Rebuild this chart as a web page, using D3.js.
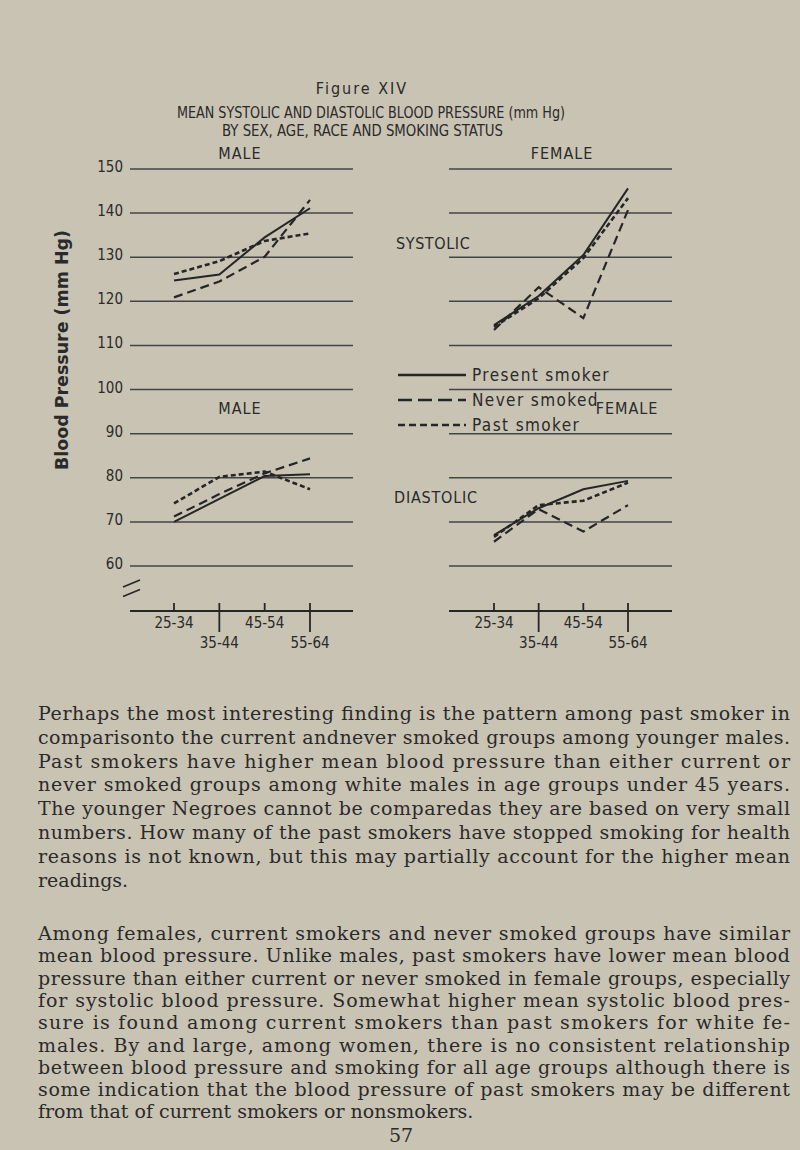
<!DOCTYPE html>
<html><head><meta charset="utf-8">
<script src="https://cdn.jsdelivr.net/npm/d3@7"></script>
<style>
html,body{margin:0;padding:0;background:#c9c3b3;}
svg{display:block;}
.cf{font-family:"DejaVu Sans Condensed","Liberation Sans Narrow","Roboto","Arial Narrow",sans-serif;fill:#2a2a2a;}
.body{font-family:"DejaVu Serif","Liberation Serif",serif;fill:#2a2a2a;}
</style></head>
<body>
<svg id="c" width="800" height="1150"></svg>
<script>
// ---- data ----
const ages = ["25-34","35-44","45-54","55-64"];
const yTicks = [150,140,130,120,110,100,90,80,70,60];
const seriesNames = ["Present smoker","Never smoked","Past smoker"];
const maleSysPresent   = [124.7,126.1,134.5,141.1];
const maleSysNever     = [120.9,124.5,130.1,143.0];
const maleSysPast      = [126.2,129.1,133.7,135.4];
const femaleSysPresent = [114.6,121.2,130.5,145.6];
const femaleSysNever   = [113.5,123.2,116.2,140.7];
const femaleSysPast    = [114.2,120.7,129.8,143.4];
const maleDiaPresent   = [70.0,75.2,80.4,80.8];
const maleDiaNever     = [71.2,76.3,81.0,84.4];
const maleDiaPast      = [74.2,80.2,81.4,77.4];
const femaleDiaPresent = [67.0,73.1,77.4,79.3];
const femaleDiaNever   = [65.5,72.9,67.8,73.8];
const femaleDiaPast    = [66.6,73.8,74.8,78.9];

const para1 = [
 "Perhaps the most interesting finding is the pattern among past smoker in",
 "comparisonto the current andnever smoked groups among younger males.",
 "Past smokers have higher mean blood pressure than either current or",
 "never smoked groups among white males in age groups under 45 years.",
 "The younger Negroes cannot be comparedas they are based on very small",
 "numbers. How many of the past smokers have stopped smoking for health",
 "reasons is not known, but this may partially account for the higher mean",
 "readings."];
const para2 = [
 "Among females, current smokers and never smoked groups have similar",
 "mean blood pressure. Unlike males, past smokers have lower mean blood",
 "pressure than either current or never smoked in female groups, especially",
 "for systolic blood pressure. Somewhat higher mean systolic blood pres-",
 "sure is found among current smokers than past smokers for white fe-",
 "males. By and large, among women, there is no consistent relationship",
 "between blood pressure and smoking for all age groups although there is",
 "some indication that the blood pressure of past smokers may be different",
 "from that of current smokers or nonsmokers."];

// ---- drawing ----
const svg = d3.select("#c");
const ink = "#262626";
const y = d3.scaleLinear().domain([60,150]).range([566,169]);
const panels = [
  {x0:130, x1:353, x: d3.scalePoint().domain(ages).range([174,310]),
   sys:[maleSysPresent,maleSysNever,maleSysPast], dia:[maleDiaPresent,maleDiaNever,maleDiaPast]},
  {x0:449, x1:672, x: d3.scalePoint().domain(ages).range([494,628]),
   sys:[femaleSysPresent,femaleSysNever,femaleSysPast], dia:[femaleDiaPresent,femaleDiaNever,femaleDiaPast]}
];
const dashes = [null, "9,5", "5,3"];
const widths = [2, 2.2, 2.6];

// titles
svg.append("text").attr("class","cf").attr("x",362).attr("y",94).attr("text-anchor","middle")
  .attr("font-size",16).attr("letter-spacing",2).text("Figure XIV");
svg.append("text").attr("class","cf").attr("x",177).attr("y",118).attr("font-size",16)
  .attr("textLength",388).attr("lengthAdjust","spacingAndGlyphs").text("MEAN SYSTOLIC AND DIASTOLIC BLOOD PRESSURE (mm Hg)");
svg.append("text").attr("class","cf").attr("x",222).attr("y",136).attr("font-size",16)
  .attr("textLength",281).attr("lengthAdjust","spacingAndGlyphs").text("BY SEX, AGE, RACE AND SMOKING STATUS");
svg.append("text").attr("class","cf").attr("x",240).attr("y",159).attr("text-anchor","middle").attr("font-size",16).attr("letter-spacing",1).text("MALE");
svg.append("text").attr("class","cf").attr("x",562).attr("y",159).attr("text-anchor","middle").attr("font-size",16).attr("letter-spacing",1).text("FEMALE");

// gridlines
panels.forEach(p => {
  svg.append("g").selectAll("line").data(yTicks).join("line")
    .attr("x1",p.x0).attr("x2",p.x1).attr("y1",d=>y(d)).attr("y2",d=>y(d))
    .attr("stroke","#444").attr("stroke-width",1.5);
});
// y labels
svg.append("g").selectAll("text").data(yTicks).join("text").attr("class","cf")
  .attr("x",123).attr("y",d=>y(d)+3).attr("text-anchor","end").attr("font-size",15).text(d=>d);

// axis title
svg.append("text").attr("class","cf").attr("transform","translate(68,350) rotate(-90)")
  .attr("text-anchor","middle").attr("font-size",17).attr("font-weight","bold")
  .attr("textLength",240).attr("lengthAdjust","spacingAndGlyphs").text("Blood Pressure (mm Hg)");

// break mark
[0,1].forEach(i=>{
  svg.append("line").attr("x1",123).attr("y1",y(60)+21+i*9.5).attr("x2",140).attr("y2",y(60)+14+i*9.5)
   .attr("stroke",ink).attr("stroke-width",1.6);
});

// series lines
panels.forEach(p => {
  [p.sys, p.dia].forEach(group => {
    group.forEach((vals,k) => {
      const line = d3.line().x((d,i)=>p.x(ages[i])).y(d=>y(d));
      svg.append("path").attr("d",line(vals)).attr("fill","none").attr("stroke",ink)
        .attr("stroke-width",widths[k]).attr("stroke-dasharray",dashes[k]);
    });
  });
  // x axis
  const ay = 611;
  svg.append("line").attr("x1",p.x0).attr("x2",p.x1).attr("y1",ay).attr("y2",ay).attr("stroke",ink).attr("stroke-width",2.2);
  const g = svg.append("g");
  g.selectAll("line").data(ages).join("line")
    .attr("x1",d=>p.x(d)).attr("x2",d=>p.x(d)).attr("y1",603).attr("y2",(d,i)=> i%2? 632 : ay)
    .attr("stroke",ink).attr("stroke-width",1.8);
  g.selectAll("text").data(ages).join("text").attr("class","cf")
    .attr("x",d=>p.x(d)).attr("y",(d,i)=> i%2? 648 : 628).attr("text-anchor","middle").attr("font-size",15).text(d=>d);
});

// panel labels
svg.append("text").attr("class","cf").attr("x",396).attr("y",249).attr("font-size",16).attr("letter-spacing",0.6).text("SYSTOLIC");
svg.append("text").attr("class","cf").attr("x",394).attr("y",503).attr("font-size",16).attr("letter-spacing",0.8).text("DIASTOLIC");
svg.append("text").attr("class","cf").attr("x",240).attr("y",414).attr("text-anchor","middle").attr("font-size",16).attr("letter-spacing",1).text("MALE");
svg.append("text").attr("class","cf").attr("x",627).attr("y",414).attr("text-anchor","middle").attr("font-size",16).attr("letter-spacing",1).text("FEMALE");

// legend
const legY = [375,400,425];
const legDash = [null,"14,6","7,4"];
seriesNames.forEach((n,k)=>{
  svg.append("line").attr("x1",398).attr("x2",466).attr("y1",legY[k]).attr("y2",legY[k])
    .attr("stroke",ink).attr("stroke-width",2.4).attr("stroke-dasharray",legDash[k]);
  svg.append("text").attr("class","cf").attr("x",472).attr("y",legY[k]+6).attr("font-size",17).attr("letter-spacing",1.4).text(n);
});

// body text
function para(lines, y0, step){
  lines.forEach((t,i)=>{
    const last = i===lines.length-1;
    const tx = svg.append("text").attr("class","body").attr("x",38).attr("y",y0+i*step)
      .attr("font-size",19).text(t);
    if(!last) tx.attr("textLength",752).attr("lengthAdjust","spacing");
  });
}
para(para1, 720, 23.8);
para(para2, 940, 22.3);
svg.append("text").attr("class","body").attr("x",401).attr("y",1142).attr("text-anchor","middle").attr("font-size",19).text("57");
</script>
</body></html>
